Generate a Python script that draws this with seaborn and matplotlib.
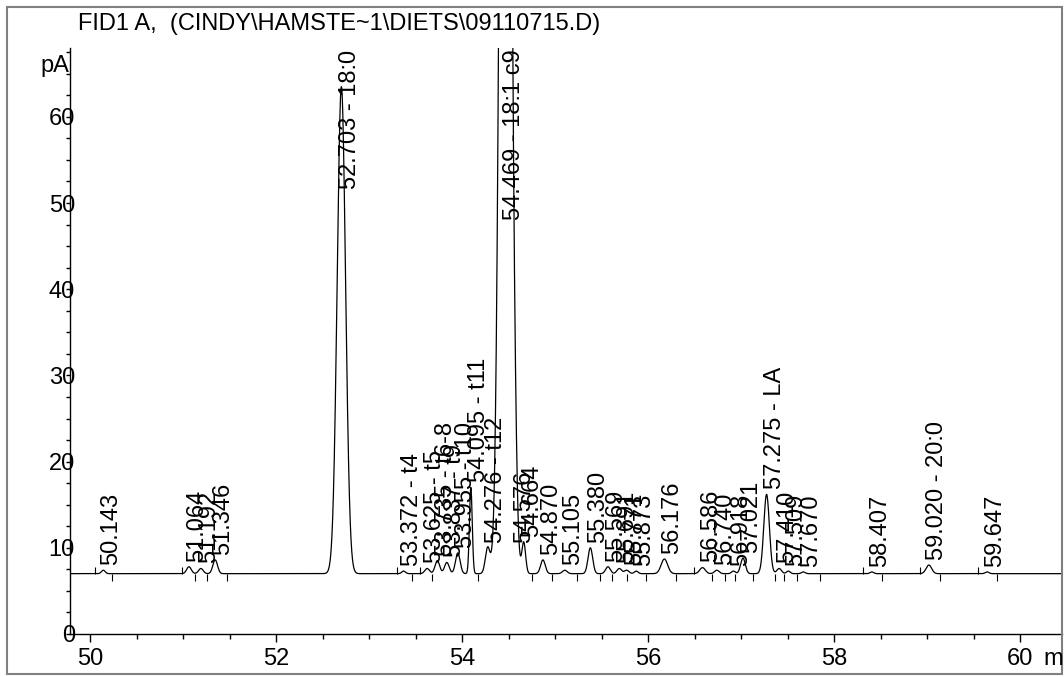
import numpy as np
import pandas as pd
import matplotlib
matplotlib.use("Agg")
import matplotlib.pyplot as plt
import seaborn as sns
from matplotlib.patches import Rectangle
from matplotlib.ticker import MultipleLocator

# ---------------- data ----------------
title = "FID1 A,  (CINDY\\HAMSTE~1\\DIETS\\09110715.D)"
baseline_pA = 7.0
retention_times = [50.143, 51.064, 51.192, 51.346, 52.703, 53.372, 53.625, 53.735,
                   53.837, 53.955, 54.095, 54.276, 54.469, 54.576, 54.664, 54.870,
                   55.105, 55.380, 55.569, 55.691, 55.771, 55.873, 56.176, 56.586,
                   56.740, 56.918, 57.021, 57.275, 57.410, 57.509, 57.670, 58.407,
                   59.020, 59.647]
peak_heights = [0.4, 0.8, 0.6, 1.6, 56.5, 0.3, 0.6, 1.5,
                1.3, 2.4, 10.0, 3.0, 200.0, 3.0, 3.6, 1.6,
                0.4, 3.0, 0.8, 0.6, 0.4, 0.3, 1.7, 0.7,
                0.4, 0.3, 1.8, 9.2, 0.6, 0.3, 0.2, 0.2,
                1.0, 0.2]
peak_sigmas = [0.02, 0.025, 0.025, 0.025, 0.045, 0.02, 0.025, 0.025,
               0.025, 0.025, 0.015, 0.025, 0.05, 0.02, 0.02, 0.025,
               0.025, 0.025, 0.025, 0.025, 0.025, 0.02, 0.035, 0.03,
               0.025, 0.02, 0.025, 0.03, 0.025, 0.02, 0.02, 0.02,
               0.03, 0.02]
peak_labels = ["50.143", "51.064", "51.192", "51.346", "52.703 - 18:0", "53.372 - t4",
               "53.625 - t5", "53.735 - t6-8", "53.837 - t9", "53.955 - t10",
               "54.095 - t11", "54.276 - t12", "54.469 - 18:1 c9", "54.576", "54.664",
               "54.870", "55.105", "55.380", "55.569", "55.691", "55.771", "55.873",
               "56.176", "56.586", "56.740", "56.918", "57.021", "57.275 - LA",
               "57.410", "57.509", "57.670", "58.407", "59.020 - 20:0", "59.647"]
# integration event marks on the baseline (peak starts / ends)
marks_up = [50.05, 50.99, 53.30, 53.55, 56.49, 58.31, 58.92, 59.55]
marks_down = [50.24, 51.13, 51.26, 51.47, 53.46, 53.68, 54.17, 54.75, 54.97,
              55.24, 55.48, 55.61, 55.77, 55.98, 56.30, 56.69, 56.83, 56.94,
              57.13, 57.37, 57.46, 57.60, 57.85, 58.52, 59.14, 59.75]
x_ticks = [50, 52, 54, 56, 58, 60]
y_ticks = [0, 10, 20, 30, 40, 50, 60]

# ---------------- style ----------------
sns.set_theme(style="ticks")
plt.rcParams["font.family"] = ["Liberation Sans", "DejaVu Sans"]
FS = 17

W, H = 1064, 677
fig = plt.figure(figsize=(W / 100, H / 100), dpi=100)
fig.patch.set_facecolor("white")

x_left, x_right = 70, 1062
y_bot, y_top = 634, 48
ax = fig.add_axes([x_left / W, (H - y_bot) / H, (x_right - x_left) / W, (y_bot - y_top) / H])

px_per_min = 93.0
px_per_pA = 8.62
xmin = 50 - (90 - x_left) / px_per_min
xmax = xmin + (x_right - x_left) / px_per_min
ymax = (y_bot - y_top) / px_per_pA

# chromatogram trace built from the peak table
t = np.linspace(xmin, xmax, 8000)
signal = np.full_like(t, baseline_pA)
for rt, h, s in zip(retention_times, peak_heights, peak_sigmas):
    signal += h * np.exp(-0.5 * ((t - rt) / s) ** 2)
df = pd.DataFrame({"time": t, "signal": signal})
sns.lineplot(data=df, x="time", y="signal", ax=ax, color="black", lw=0.9,
             estimator=None, sort=False)

# baseline event marks
ax.vlines(marks_up, baseline_pA, baseline_pA + 0.8, colors="black", lw=0.8)
ax.vlines(marks_down, baseline_pA - 0.8, baseline_pA, colors="black", lw=0.8)

ax.set_xlim(xmin, xmax)
ax.set_ylim(0, ymax)
ax.set_xlabel("")
ax.set_ylabel("")
ax.set_facecolor("white")
for side in ["top", "right"]:
    ax.spines[side].set_visible(False)
for side in ["left", "bottom"]:
    ax.spines[side].set_color("black")
    ax.spines[side].set_linewidth(1.0)

ax.set_xticks(x_ticks)
ax.set_xticklabels([str(v) for v in x_ticks], fontsize=FS)
ax.xaxis.set_minor_locator(MultipleLocator(0.5))
ax.set_yticks(y_ticks)
ax.set_yticklabels([str(v) for v in y_ticks], fontsize=FS)
ax.yaxis.set_minor_locator(MultipleLocator(2.5))
ax.tick_params(axis="x", which="major", length=6, width=1, direction="out", pad=4, colors="black")
ax.tick_params(axis="x", which="minor", length=3.5, width=1, direction="out", colors="black")
ax.tick_params(axis="y", which="major", length=3, width=1, direction="out", pad=-6.6, colors="black")
ax.tick_params(axis="y", which="minor", length=3, width=1, direction="out", colors="black")

# peak labels
for rt, h, lab in zip(retention_times, peak_heights, peak_labels):
    apex = baseline_pA + h
    if apex > 45:
        ax.text(rt - 0.03, ymax - 0.2, lab, rotation=90, ha="left", va="top",
                fontsize=FS, color="black", clip_on=False)
    else:
        ax.text(rt - 0.03, apex + 0.6, lab, rotation=90, ha="left", va="bottom",
                fontsize=FS, color="black", clip_on=False)

# unit labels
ax.text(-0.001, (y_bot - 66) / px_per_pA, "pA", transform=ax.get_yaxis_transform(),
        ha="right", va="center", fontsize=FS, color="black")
fig.text(1043 / W, (H - 659) / H, "m", ha="left", va="center", fontsize=FS, color="black")

# title
fig.text(78 / W, (H - 30) / H, title, ha="left", va="baseline", fontsize=FS, color="black")

# outer frame
fig.patches.append(Rectangle((7 / W, 3 / H), (1062 - 7) / W, (674 - 7) / H,
                             transform=fig.transFigure, fill=False,
                             edgecolor="#808080", lw=1.5))

fig.savefig("out.png", dpi=100, facecolor="white")
